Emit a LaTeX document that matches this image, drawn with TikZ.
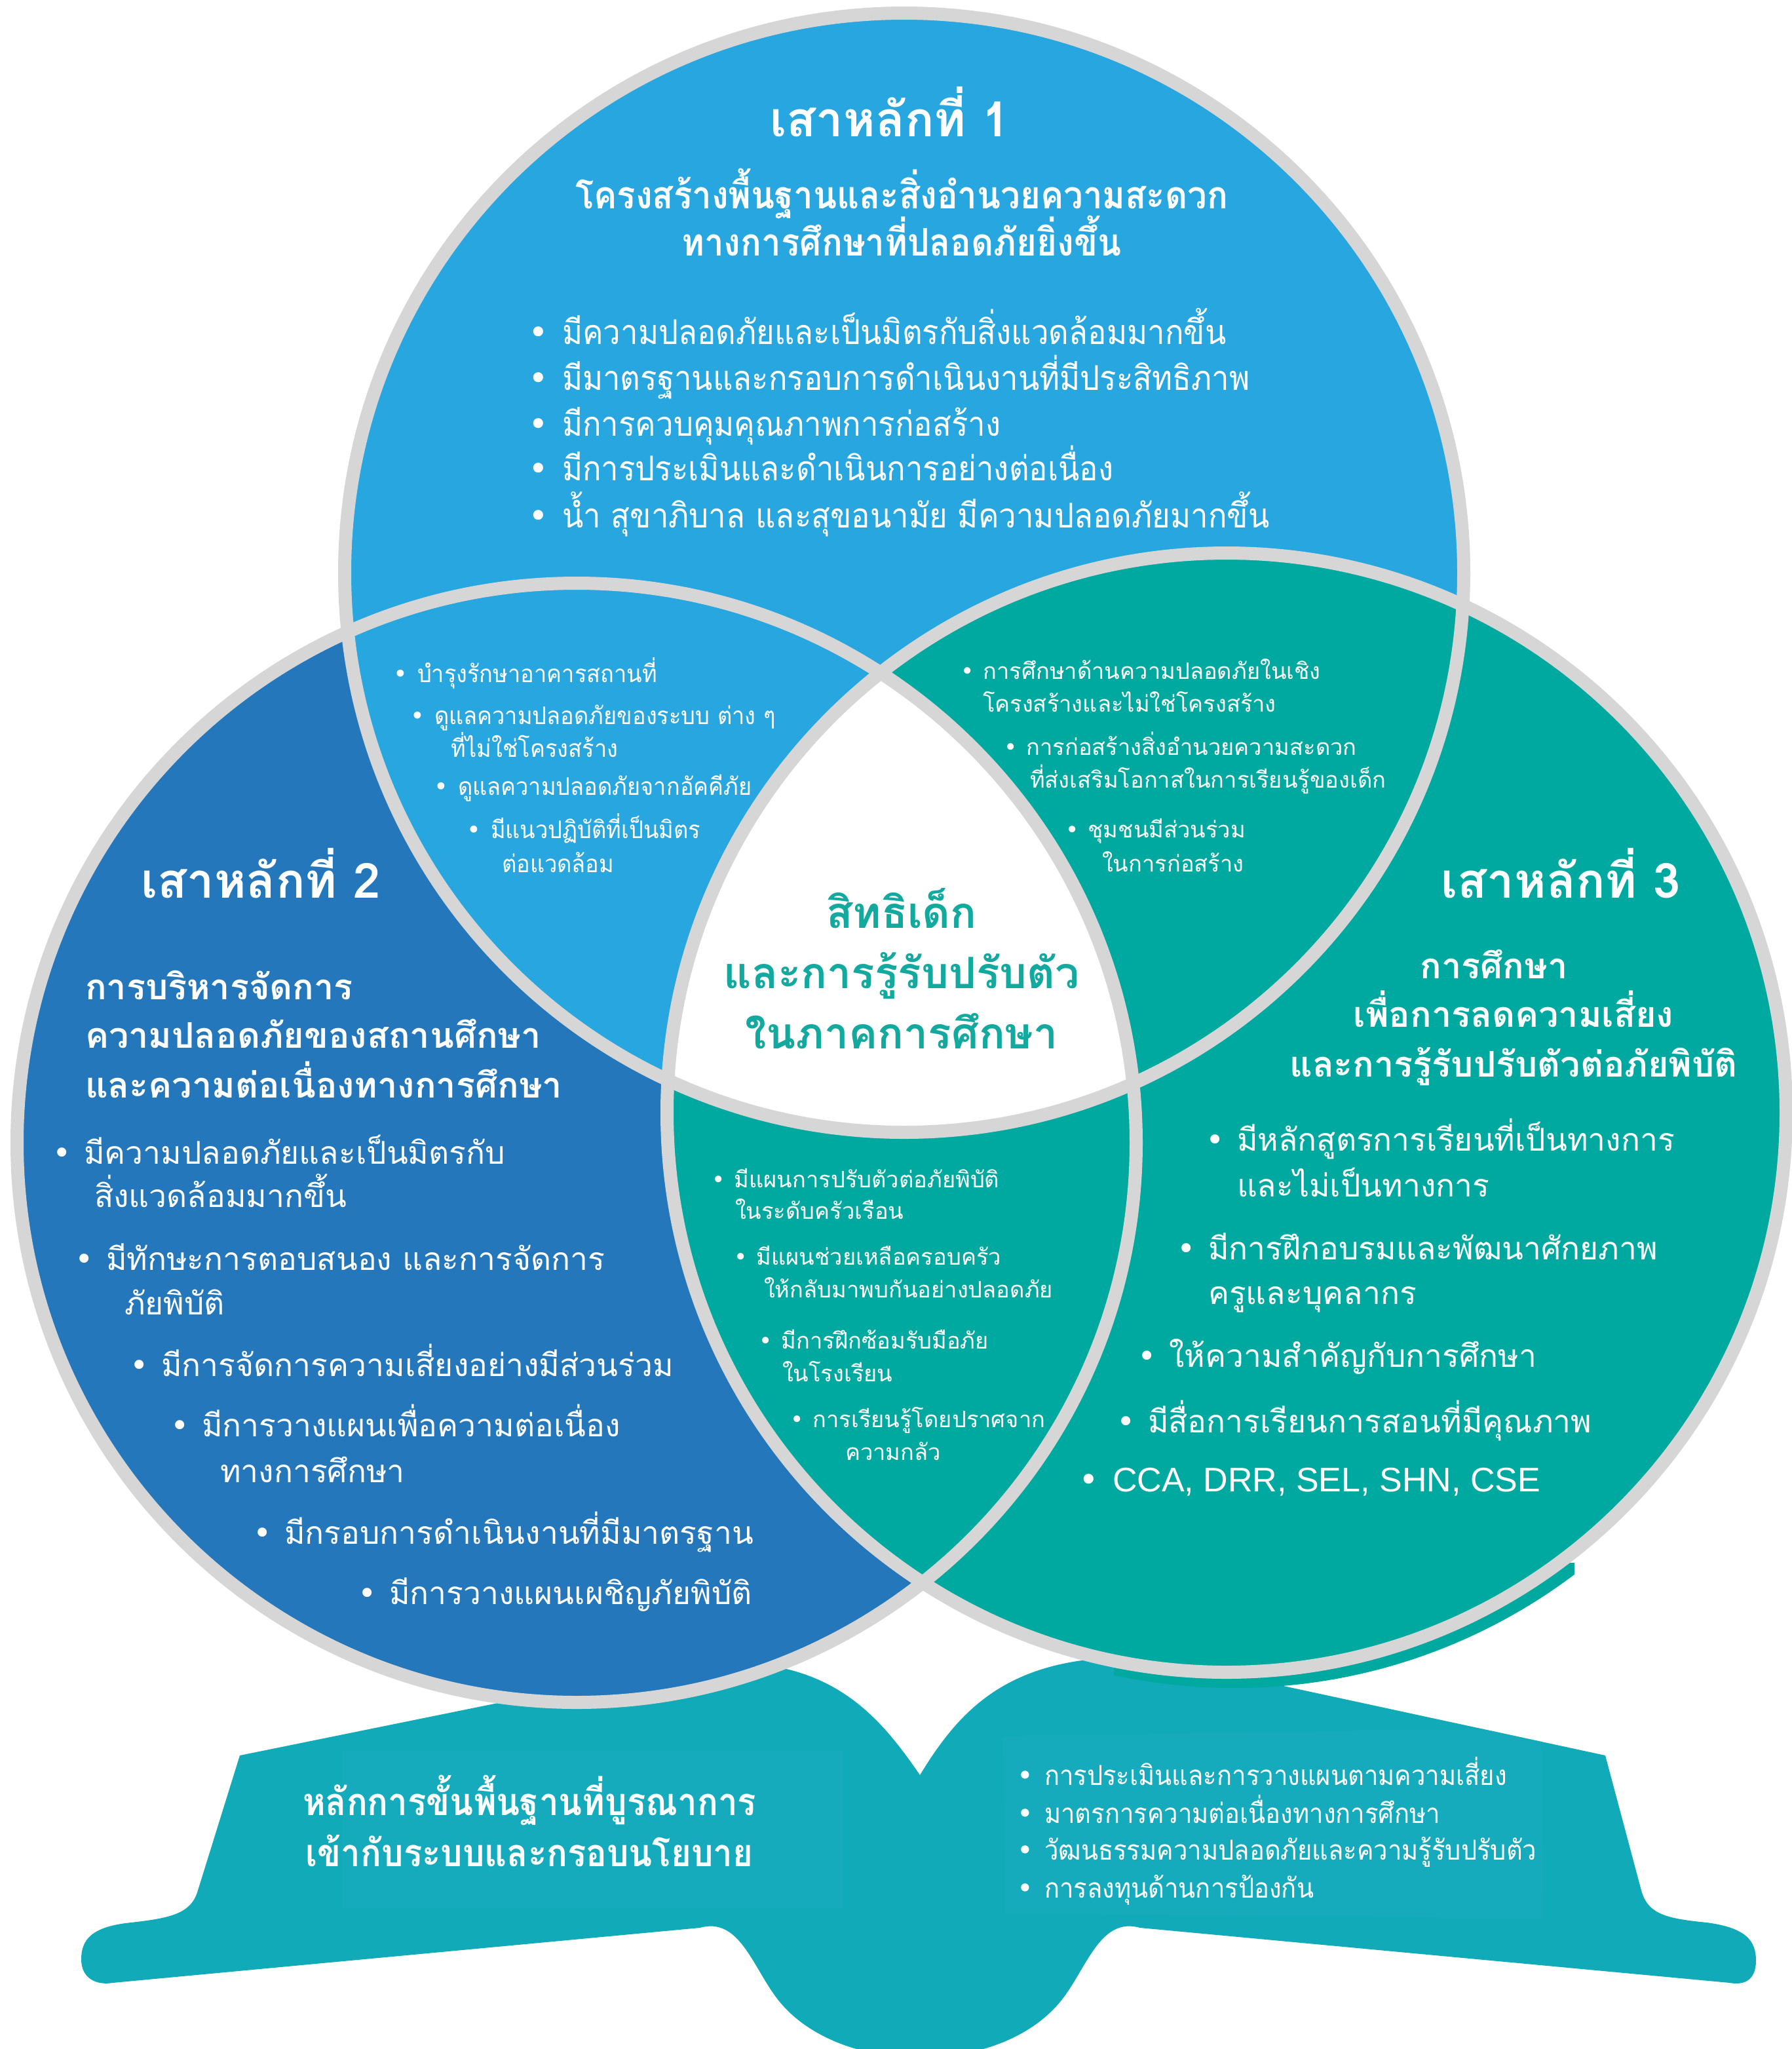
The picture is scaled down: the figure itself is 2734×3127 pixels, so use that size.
\documentclass[tikz,border=0pt]{standalone}
\usepackage{fontspec}
\newfontfamily\thai[Script=Thai]{Loma}
\newfontfamily\thaic[Script=Thai,FakeStretch=0.91]{Loma}
\newfontfamily\thaid[Script=Thai,FakeStretch=0.93]{Loma}
\newfontfamily\symf{DejaVu Sans}
\newfontfamily\latf{Liberation Sans}
\definecolor{cA}{HTML}{27A6DF}
\definecolor{cB}{HTML}{2577BB}
\definecolor{cC}{HTML}{00A99F}
\definecolor{bookc}{HTML}{11AAB9}
\definecolor{bookbox}{HTML}{19ADBE}
\definecolor{ringc}{HTML}{D6D6D6}
\definecolor{ctxt}{HTML}{14A99E}
\newcommand\bul{\makebox[1em][l]{\symf •}}
\newcommand\bookpath{(366,2679) -- (1050,2540)
  .. controls (1250,2520) and (1330,2600) .. (1404,2709)
  .. controls (1470,2600) and (1550,2520) .. (1760,2530)
  -- (2450,2679) -- (2505,2885)
  .. controls (2515,2922) and (2545,2928) .. (2605,2934)
  .. controls (2665,2942) and (2680,2962) .. (2680,2992)
  .. controls (2680,3022) and (2662,3030) .. (2640,3026)
  -- (1740,2942)
  .. controls (1680,2925) and (1660,3000) .. (1622,3050)
  .. controls (1580,3105) and (1500,3140) .. (1404,3140)
  .. controls (1308,3140) and (1228,3105) .. (1186,3050)
  .. controls (1148,3000) and (1128,2925) .. (1068,2942)
  -- (172,3026)
  .. controls (148,3030) and (124,3020) .. (124,2990)
  .. controls (124,2960) and (140,2940) .. (200,2934)
  .. controls (262,2927) and (292,2920) .. (302,2885)
  -- cycle}
\tikzset{
  every node/.style={inner sep=0pt,outer sep=0pt},
  ringline/.style={draw=ringc,line width=20pt},
  ttl/.style={text=white,font=\thai\bfseries\fontsize{74}{84}\selectfont,text height=37pt,text depth=0pt},
  subA/.style={text=white,font=\thaic\bfseries\fontsize{58}{66}\selectfont,text height=29pt,text depth=0pt},
  bA/.style={text=white,font=\thaic\fontsize{52}{60}\selectfont,text height=26pt,text depth=0pt,anchor=west},
  lensA/.style={text=white,font=\thaid\fontsize{37}{42}\selectfont,text height=18pt,text depth=0pt,anchor=west},
  lens/.style={text=white,font=\thai\fontsize{34.5}{40}\selectfont,text height=17pt,text depth=0pt,anchor=west},
  ctr/.style={text=ctxt,font=\thai\bfseries\fontsize{66}{76}\selectfont,text height=33pt,text depth=0pt},
  subB/.style={text=white,font=\thai\bfseries\fontsize{54}{62}\selectfont,text height=27pt,text depth=0pt},
  bB/.style={text=white,font=\thai\fontsize{48}{56}\selectfont,text height=24pt,text depth=0pt,anchor=west},
  bkL/.style={text=white,font=\thaic\bfseries\fontsize{58}{66}\selectfont,text height=29pt,text depth=0pt},
  bkR/.style={text=white,font=\thaic\fontsize{42}{50}\selectfont,text height=21pt,text depth=0pt,anchor=west},
}
\begin{document}
\begin{tikzpicture}[x=1pt,y=-1pt]
\useasboundingbox (0,0) rectangle (2734,3127);
\fill[white] (0,0) rectangle (2734,3127);
\coordinate (c1) at (1380,874);
\coordinate (c2) at (880,1744);
\coordinate (c3) at (1872,1698);
% book
\fill[bookc] \bookpath;
\begin{scope}
  \clip \bookpath;
  \fill[bookbox,opacity=0.6] (523,2672) rectangle (1287,2912);
  \fill[bookbox,opacity=0.6] (1531,2650) -- (2352,2637) -- (2356,2928) -- (1535,2920) -- cycle;
\end{scope}
% shadow of circle 3
\begin{scope}
  \clip (1700,2385) rectangle (2403,3127);
  \fill[cC] (1884,1712) circle[radius=864pt];
\end{scope}
% circles
\fill[cB] (c2) circle[radius=854pt];
\fill[cA] (c1) circle[radius=854pt];
\fill[cC] (c3) circle[radius=854pt];
\begin{scope}
  \clip (c1) circle[radius=854pt];
  \clip (c2) circle[radius=854pt];
  \fill[white] (c3) circle[radius=854pt];
\end{scope}
\draw[ringline] (c1) circle[radius=854pt];
\draw[ringline] (c2) circle[radius=854pt];
\draw[ringline] (c3) circle[radius=854pt];
% pillar 1
\node[ttl] (t1) at (1358,190) {เสาหลักที่ 1};
\node[subA] (s1a) at (1376,304) {โครงสร้างพื้นฐานและสิ่งอำนวยความสะดวก};
\node[subA] (s1b) at (1376,376) {ทางการศึกษาที่ปลอดภัยยิ่งขึ้น};
\node[bA] (a1) at (806,512) {\bul มีความปลอดภัยและเป็นมิตรกับสิ่งแวดล้อมมากขึ้น};
\node[bA] (a2) at (806,582) {\bul มีมาตรฐานและกรอบการดำเนินงานที่มีประสิทธิภาพ};
\node[bA] (a3) at (806,652) {\bul มีการควบคุมคุณภาพการก่อสร้าง};
\node[bA] (a4) at (806,720) {\bul มีการประเมินและดำเนินการอย่างต่อเนื่อง};
\node[bA] (a5) at (806,792) {\bul น้ำ สุขาภิบาล และสุขอนามัย มีความปลอดภัยมากขึ้น};
% lens 1-2
\node[lensA] (l1) at (600,1032) {\bul บำรุงรักษาอาคารสถานที่};
\node[lensA] (l2) at (626,1096) {\bul ดูแลความปลอดภัยของระบบ ต่าง ๆ};
\node[lensA] (l2b) at (688,1146) {ที่ไม่ใช่โครงสร้าง};
\node[lensA] (l3) at (662,1204) {\bul ดูแลความปลอดภัยจากอัคคีภัย};
\node[lensA] (l4) at (712,1270) {\bul มีแนวปฏิบัติที่เป็นมิตร};
\node[lensA] (l4b) at (766,1322) {ต่อแวดล้อม};
% lens 1-3
\node[lens] (r1) at (1466,1028) {\bul การศึกษาด้านความปลอดภัยในเชิง};
\node[lens] (r1b) at (1500,1078) {โครงสร้างและไม่ใช่โครงสร้าง};
\node[lens] (r2) at (1532,1144) {\bul การก่อสร้างสิ่งอำนวยความสะดวก};
\node[lens] (r2b) at (1572,1194) {ที่ส่งเสริมโอกาสในการเรียนรู้ของเด็ก};
\node[lens] (r3) at (1626,1270) {\bul ชุมชนมีส่วนร่วม};
\node[lens] (r3b) at (1682,1322) {ในการก่อสร้าง};
% centre
\node[ctr] (m1) at (1376,1400) {สิทธิเด็ก};
\node[ctr] (m2) at (1376,1492) {และการรู้รับปรับตัว};
\node[ctr] (m3) at (1376,1584) {ในภาคการศึกษา};
% pillar 2
\node[ttl] (t2) at (398,1352) {เสาหลักที่ 2};
\node[subB,anchor=west] (s2a) at (130,1512) {การบริหารจัดการ};
\node[subB,anchor=west] (s2b) at (130,1586) {ความปลอดภัยของสถานศึกษา};
\node[subB,anchor=west] (s2c) at (130,1662) {และความต่อเนื่องทางการศึกษา};
\node[bB] (p1) at (80,1764) {\bul มีความปลอดภัยและเป็นมิตรกับ};
\node[bB] (p1b) at (144,1830) {สิ่งแวดล้อมมากขึ้น};
\node[bB] (p2) at (114,1926) {\bul มีทักษะการตอบสนอง และการจัดการ};
\node[bB] (p2b) at (190,1994) {ภัยพิบัติ};
\node[bB] (p3) at (198,2088) {\bul มีการจัดการความเสี่ยงอย่างมีส่วนร่วม};
\node[bB] (p4) at (260,2180) {\bul มีการวางแผนเพื่อความต่อเนื่อง};
\node[bB] (p4b) at (336,2250) {ทางการศึกษา};
\node[bB] (p5) at (386,2344) {\bul มีกรอบการดำเนินงานที่มีมาตรฐาน};
\node[bB] (p6) at (546,2436) {\bul มีการวางแผนเผชิญภัยพิบัติ};
% pillar 3
\node[ttl] (t3) at (2382,1352) {เสาหลักที่ 3};
\node[subB] (s3a) at (2280,1480) {การศึกษา};
\node[subB] (s3b) at (2310,1554) {เพื่อการลดความเสี่ยง};
\node[subB] (s3c) at (2310,1630) {และการรู้รับปรับตัวต่อภัยพิบัติ};
\node[bB] (q1) at (1840,1744) {\bul มีหลักสูตรการเรียนที่เป็นทางการ};
\node[bB] (q1b) at (1888,1814) {และไม่เป็นทางการ};
\node[bB] (q2) at (1796,1910) {\bul มีการฝึกอบรมและพัฒนาศักยภาพ};
\node[bB] (q2b) at (1844,1978) {ครูและบุคลากร};
\node[bB] (q3) at (1736,2074) {\bul ให้ความสำคัญกับการศึกษา};
\node[bB] (q4) at (1704,2174) {\bul มีสื่อการเรียนการสอนที่มีคุณภาพ};
\node[bB,font=\latf\fontsize{52}{60}\selectfont] (q5) at (1646,2264) {\bul CCA, DRR, SEL, SHN, CSE};
% lens 2-3
\node[lens] (u1) at (1086,1804) {\bul มีแผนการปรับตัวต่อภัยพิบัติ};
\node[lens] (u1b) at (1122,1852) {ในระดับครัวเรือน};
\node[lens] (u2) at (1120,1922) {\bul มีแผนช่วยเหลือครอบครัว};
\node[lens] (u2b) at (1166,1972) {ให้กลับมาพบกันอย่างปลอดภัย};
\node[lens] (u3) at (1158,2050) {\bul มีการฝึกซ้อมรับมือภัย};
\node[lens] (u3b) at (1194,2100) {ในโรงเรียน};
\node[lens] (u4) at (1206,2170) {\bul การเรียนรู้โดยปราศจาก};
\node[lens] (u4b) at (1290,2220) {ความกลัว};
% book texts
\node[bkL] (k1) at (808,2756) {หลักการขั้นพื้นฐานที่บูรณาการ};
\node[bkL] (k2) at (808,2834) {เข้ากับระบบและกรอบนโยบาย};
\node[bkR] (w1) at (1552,2714) {\bul การประเมินและการวางแผนตามความเสี่ยง};
\node[bkR] (w2) at (1552,2772) {\bul มาตรการความต่อเนื่องทางการศึกษา};
\node[bkR] (w3) at (1552,2828) {\bul วัฒนธรรมความปลอดภัยและความรู้รับปรับตัว};
\node[bkR] (w4) at (1552,2886) {\bul การลงทุนด้านการป้องกัน};
\end{tikzpicture}
\end{document}
